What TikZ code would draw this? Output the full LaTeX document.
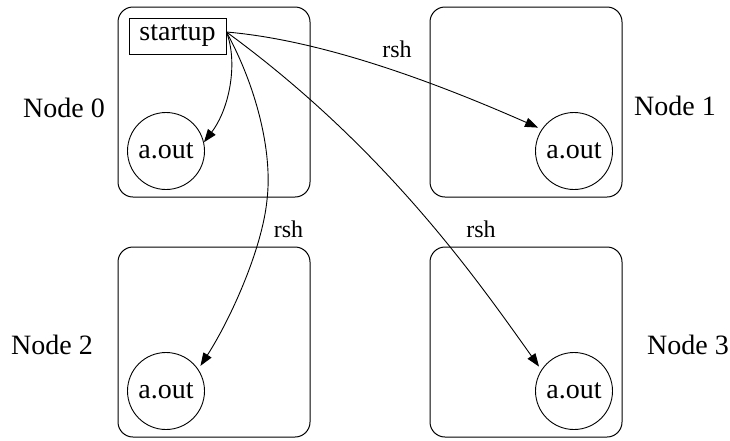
\documentclass[tikz,border=0pt]{standalone}
\usepackage{fontspec}
\setmainfont{Liberation Serif}
\newfontfamily\labelfont{Liberation Serif}
\usetikzlibrary{arrows.meta}
\begin{document}
\begin{tikzpicture}[x=1pt,y=-1pt,
  host/.style={draw, rounded corners=15pt, minimum width=192pt, minimum height=190pt, inner sep=0pt, line width=1pt},
  proc/.style={draw, circle, minimum size=77pt, inner sep=0pt, line width=0.9pt, font=\labelfont\fontsize{28}{30}\selectfont},
  hostlabel/.style={anchor=base, font=\labelfont\fontsize{28}{30}\selectfont, inner sep=0pt},
  launcher/.style={draw, rectangle, minimum width=97pt, minimum height=36pt, inner sep=0pt, line width=0.9pt, font=\labelfont\fontsize{28}{30}\selectfont},
  rshlabel/.style={anchor=base, font=\labelfont\fontsize{24}{26}\selectfont, inner sep=0pt},
  link/.style={line width=0.9pt, -{Triangle[length=13pt,width=9.5pt]}},
  remote/.style={link, shorten >=4pt}]
\useasboundingbox (0,0) rectangle (730,440);

% four hosts
\node[host] (h0) at (214,102) {};
\node[host] (h1) at (526,102) {};
\node[host] (h2) at (214,342) {};
\node[host] (h3) at (526,342) {};

\node[hostlabel] (l0) at (64,117) {Node 0};
\node[hostlabel] (l1) at (675,115) {Node 1};
\node[hostlabel] (l2) at (52,354) {Node 2};
\node[hostlabel] (l3) at (688,354) {Node 3};

% launcher and processes
\node[launcher] (startup) at (177.5,36) {startup};
\node[proc] (a0) at (166,151) {a.out};
\node[proc] (a1) at (574,151) {a.out};
\node[proc] (a2) at (166,391) {a.out};
\node[proc] (a3) at (574,391) {a.out};

% spawn edges
\coordinate (src) at ([yshift=4pt]startup.east);
\draw[link] (src) .. controls (238,62) and (230,108) .. (a0.13);
\draw[remote] (src) .. controls (320,40) and (430,80) .. (a1.146);
\draw[remote] (src) .. controls (255,84) and (273,150) .. (267,200)
              .. controls (262,250) and (230,320) .. (a2.34);
\draw[remote] (src) .. controls (388,150) and (480,284) .. (a3.147);

\node[rshlabel] (r1) at (397,57) {rsh};
\node[rshlabel] (r2) at (288.5,237) {rsh};
\node[rshlabel] (r3) at (481,237) {rsh};
\end{tikzpicture}
\end{document}
